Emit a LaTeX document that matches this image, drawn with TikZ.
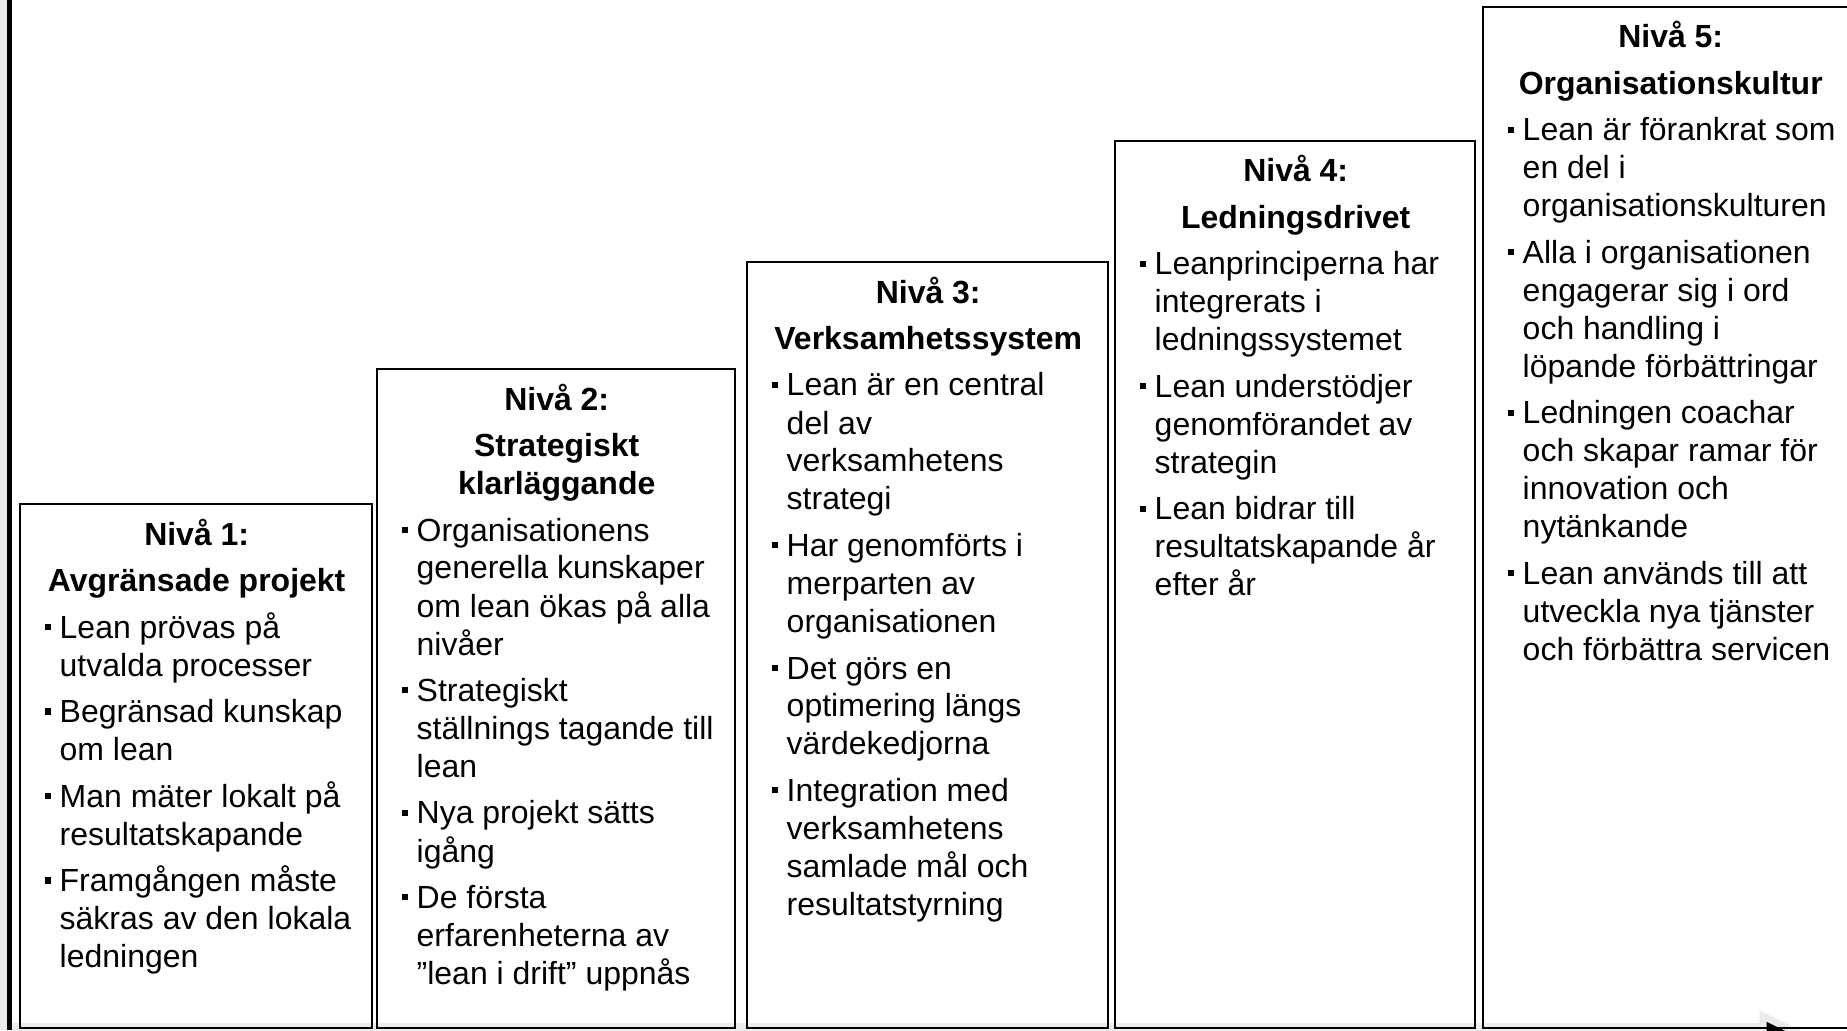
\documentclass[tikz,border=0pt]{standalone}
\usepackage{fontspec}
\setmainfont{Liberation Sans}
\usepackage{xcolor}
\usepackage{tikz}
\usetikzlibrary{positioning,calc}

\definecolor{axisgray}{RGB}{236,236,236}
\newcommand{\lvlfont}{\fontsize{9.1pt}{3.8mm}\selectfont}
\newcommand{\lvlbul}{\makebox[1.6mm][l]{\hspace{0.15mm}\rule[0.8mm]{0.62mm}{0.62mm}}}
\newcommand{\lvlitem}[1]{\par\noindent\lvlbul\begin{tabular}[t]{@{}l@{}}#1\end{tabular}}
\newcommand{\lvltext}[3]{\parbox[t]{#1}{\lvlfont\setlength{\parskip}{0.85mm}\setlength{\lineskip}{0pt}%
  {\centering\bfseries #2\par}#3}}

\begin{document}
\begin{tikzpicture}[x=0.1mm,y=-0.1mm,
    lvlbox/.style={draw=black, line width=0.25mm},
    lvlnode/.style={anchor=base west, inner sep=0pt, font=\lvlfont}]
    \useasboundingbox (0,0) rectangle (1847,1030);
    \clip (0,0) rectangle (1847,1030);
    \fill[white] (0,0) rectangle (1847,1030);
    % axes
    \fill[axisgray] (0,0) rectangle (7,1030);
    \fill[black] (7,0) rectangle (12,1030);
    \fill[axisgray] (12,1023) rectangle (1765,1037);
    \filldraw[fill=black, draw=axisgray, line width=0.7mm] (1763,1016) -- (1812,1040) -- (1763,1064) -- cycle;
    % level boxes
    \draw[lvlbox] (20,504) rectangle (372,1028);
    \draw[lvlbox] (377,369) rectangle (735,1028);
    \draw[lvlbox] (747,262) rectangle (1108,1028);
    \draw[lvlbox] (1115,141) rectangle (1475,1028);
    \draw[lvlbox] (1483,7) rectangle (1857,1028);
    % level texts
    \node[lvlnode] (niva1) at (43,545) {\lvltext{30.6mm}{Nivå 1:\par Avgränsade projekt}{%
        \lvlitem{Lean prövas på\\utvalda processer}
        \lvlitem{Begränsad kunskap\\om lean}
        \lvlitem{Man mäter lokalt på\\resultatskapande}
        \lvlitem{Framgången måste\\säkras av den lokala\\ledningen}}};
    \node[lvlnode] (niva2) at (400,410) {\lvltext{31.2mm}{Nivå 2:\par Strategiskt\\klarläggande}{%
        \lvlitem{Organisationens\\generella kunskaper\\om lean ökas på alla\\nivåer}
        \lvlitem{Strategiskt\\ställnings tagande till\\lean}
        \lvlitem{Nya projekt sätts\\igång}
        \lvlitem{De första\\erfarenheterna av\\”lean i drift” uppnås}}};
    \node[lvlnode] (niva3) at (770,303) {\lvltext{31.5mm}{Nivå 3:\par Verksamhetssystem}{%
        \lvlitem{Lean är en central\\del av\\verksamhetens\\strategi}
        \lvlitem{Har genomförts i\\merparten av\\organisationen}
        \lvlitem{Det görs en\\optimering längs\\värdekedjorna}
        \lvlitem{Integration med\\verksamhetens\\samlade mål och\\resultatstyrning}}};
    \node[lvlnode] (niva4) at (1138,182) {\lvltext{31.4mm}{Nivå 4:\par Ledningsdrivet}{%
        \lvlitem{Leanprinciperna har\\integrerats i\\ledningssystemet}
        \lvlitem{Lean understödjer\\genomförandet av\\strategin}
        \lvlitem{Lean bidrar till\\resultatskapande år\\efter år}}};
    \node[lvlnode] (niva5) at (1506,48) {\lvltext{32.8mm}{Nivå 5:\par Organisationskultur}{%
        \lvlitem{Lean är förankrat som\\en del i\\organisationskulturen}
        \lvlitem{Alla i organisationen\\engagerar sig i ord\\och handling i\\löpande förbättringar}
        \lvlitem{Ledningen coachar\\och skapar ramar för\\innovation och\\nytänkande}
        \lvlitem{Lean används till att\\utveckla nya tjänster\\och förbättra servicen}}};
\end{tikzpicture}
\end{document}
